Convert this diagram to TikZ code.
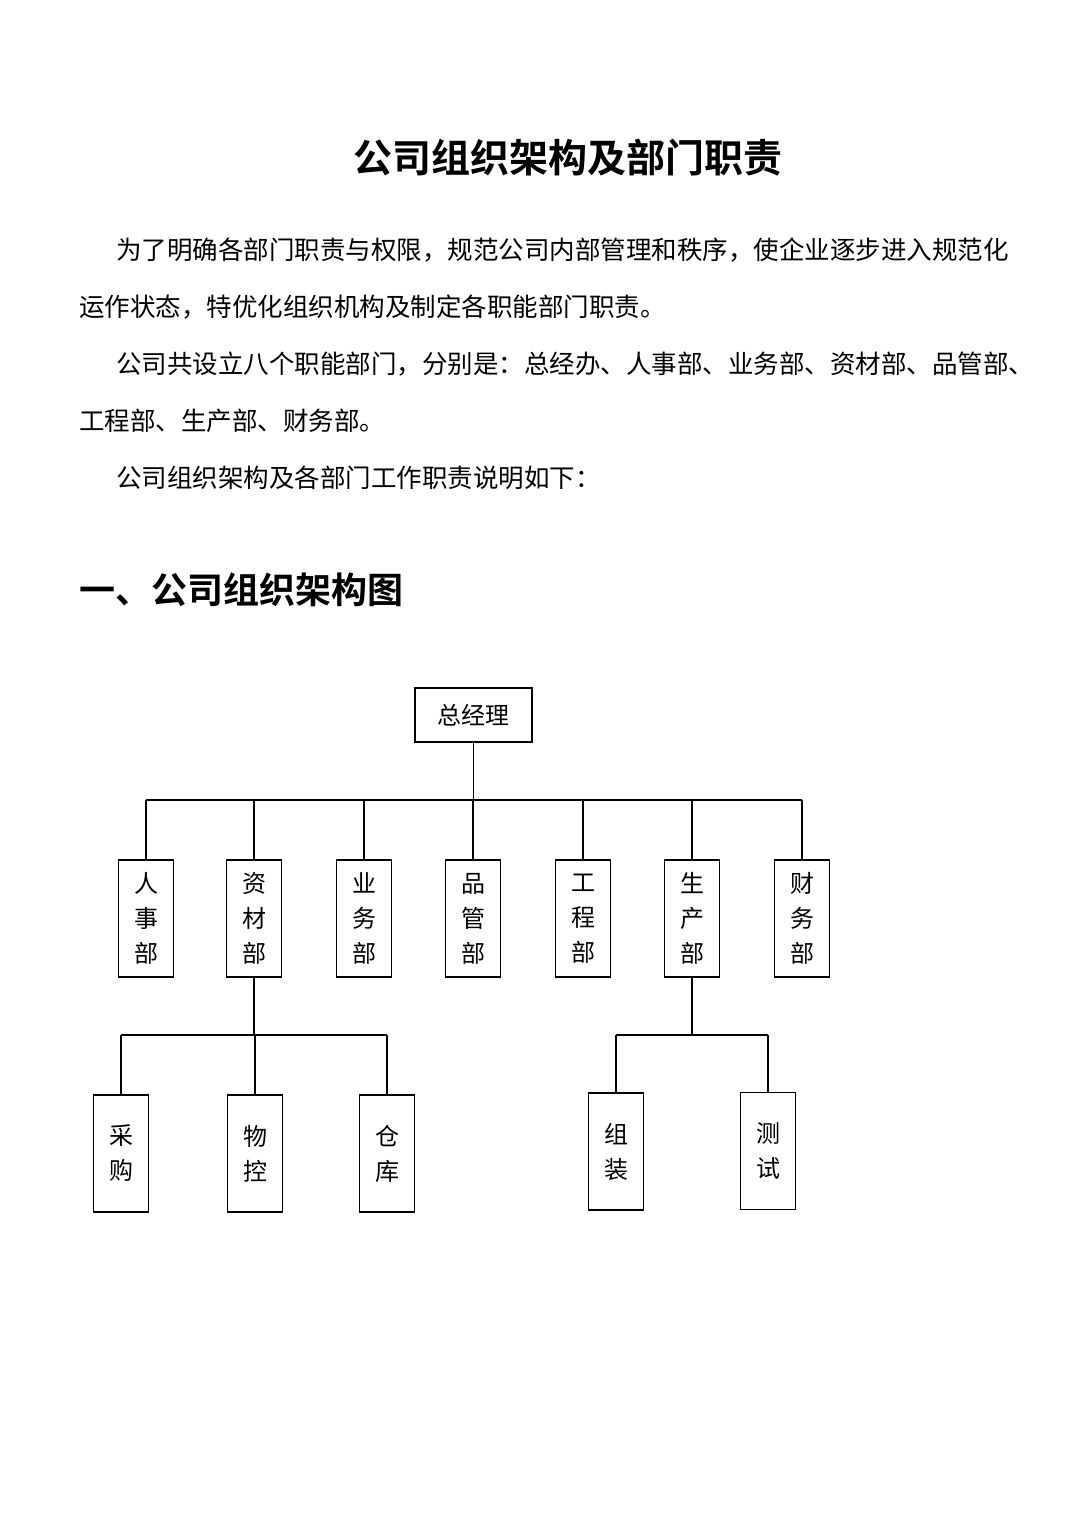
\documentclass[tikz,border=0pt]{standalone}
\usepackage{fontspec}
\setmainfont{Noto Sans CJK SC}
\newfontfamily\boldcjk{Noto Sans CJK SC Bold}
\begin{document}
\begin{tikzpicture}[x=1pt,y=-1pt,
  box/.style={draw,line width=1.2pt,inner sep=0pt,font=\fontsize{24}{35}\selectfont,align=center},
  vbox/.style={box,minimum width=55,minimum height=117},
  para/.style={anchor=west,inner sep=0pt,font=\fontsize{25.5}{26}\selectfont},
  ln/.style={line width=1.2pt}]
\useasboundingbox (0,0) rectangle (1080,1527);
\fill[white] (0,0) rectangle (1080,1527);
\node[inner sep=0pt,font=\boldcjk\fontsize{39}{40}\selectfont] (title) at (568,158) {公司组织架构及部门职责};
\node[para] (p1) at (116,250) {为了明确各部门职责与权限，规范公司内部管理和秩序，使企业逐步进入规范化};
\node[para] (p2) at (79,307) {运作状态，特优化组织机构及制定各职能部门职责。};
\node[para] (p3) at (116,364) {公司共设立八个职能部门，分别是：总经办、人事部、业务部、资材部、品管部、};
\node[para] (p4) at (79,421) {工程部、生产部、财务部。};
\node[para] (p5) at (116,478) {公司组织架构及各部门工作职责说明如下：};
\node[anchor=west,inner sep=0pt,font=\boldcjk\fontsize{36}{37}\selectfont] (h) at (79,590) {一、公司组织架构图};

\node[box,minimum width=117,minimum height=54] (gm) at (473.5,715) {总经理};
\foreach \n/\x/\t in {rs/146/人\\事\\部, zc/254/资\\材\\部, yw/364/业\\务\\部, pg/473/品\\管\\部, gc/583/工\\程\\部, sc/692/生\\产\\部, cw/802/财\\务\\部}
  \node[vbox] (\n) at (\x,918.5) {\t};
\foreach \n/\x/\t in {cg/121/采\\购, wk/255/物\\控, ck/387/仓\\库}
  \node[vbox] (\n) at (\x,1153.5) {\t};
\node[vbox] (zz) at (616,1151.5) {组\\装};
\node[vbox] (cs) at (768,1151) {测\\试};

\coordinate (bus) at (473,800);
\draw[ln] (gm.south) -- (gm.south |- bus);
\draw[ln] (rs.north |- bus) -- (cw.north |- bus);
\foreach \n in {rs,zc,yw,pg,gc,sc,cw} \draw[ln] (\n.north |- bus) -- (\n.north);
\coordinate (b2) at (254,1035);
\draw[ln] (zc.south) -- (zc.south |- b2);
\draw[ln] (cg.north |- b2) -- (ck.north |- b2);
\foreach \n in {cg,wk,ck} \draw[ln] (\n.north |- b2) -- (\n.north);
\draw[ln] (sc.south) -- (sc.south |- b2);
\draw[ln] (zz.north |- b2) -- (cs.north |- b2);
\foreach \n in {zz,cs} \draw[ln] (\n.north |- b2) -- (\n.north);
\end{tikzpicture}
\end{document}
